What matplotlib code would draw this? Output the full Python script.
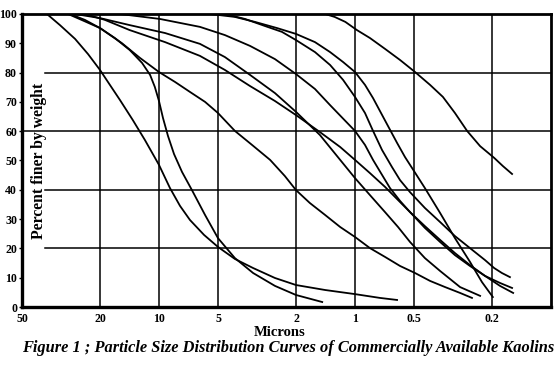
"""Particle size distribution curves of commercially available kaolins."""

import matplotlib
matplotlib.use('Agg')
import matplotlib.pyplot as plt
from matplotlib.ticker import FixedLocator, NullLocator

# Equivalent spherical diameter [microns] and cumulative percent finer,
# read off the scanned figure, one pair of lists per curve.
c1_um = [37.3, 32.0, 26.8, 23.0, 20.0, 17.8, 15.8, 13.6, 11.8, 10.0, 8.79, 7.81,
         6.95, 5.89, 5.0, 4.10, 3.31, 2.56, 2.0, 1.42, 1.0, 0.746, 0.61]
c1_pct = [100, 96.2, 91.5, 86.3, 80.9, 75.8, 70.6, 63.8, 57.0, 48.5, 40.6, 34.5,
          29.7, 24.6, 20.5, 16.4, 13.3, 9.9, 7.5, 5.8, 4.4, 3.1, 2.4]

c2_um = [28.5, 23.9, 20.0, 16.8, 14.1, 12.2, 11.1, 10.5, 10.0, 9.54, 9.0, 8.38,
         7.63, 6.79, 5.82, 5.0, 4.10, 3.31, 2.56, 2.0, 1.47]
c2_pct = [100, 98.0, 95.2, 91.8, 87.7, 83.3, 79.2, 75.1, 70.3, 64.5, 58.4, 52.2,
          46.1, 39.9, 31.4, 23.5, 16.7, 11.6, 7.2, 4.1, 1.7]

c3_um = [29.1, 24.1, 20.0, 15.5, 12.5, 10.0, 8.28, 6.95, 5.82, 5.0, 4.10, 3.35,
         2.71, 2.28, 2.0, 1.70, 1.42, 1.19, 1.0, 0.839, 0.703, 0.589, 0.494,
         0.414, 0.347, 0.291, 0.253]
c3_pct = [100, 97.6, 95.2, 90.1, 85.0, 80.2, 76.8, 73.4, 70.0, 66.2, 60.1, 55.3,
          50.2, 44.7, 39.9, 35.5, 31.4, 27.3, 23.9, 20.1, 17.1, 14.0, 11.6,
          8.9, 6.8, 4.8, 3.1]

c4_um = [1.42, 1.27, 1.12, 0.977, 0.839, 0.703, 0.589, 0.494, 0.414, 0.356,
         0.309, 0.268, 0.230, 0.195, 0.176, 0.158]
c4_pct = [100, 99.0, 97.3, 94.5, 91.8, 88.1, 84.3, 80.2, 75.8, 71.7,
          66.2, 60.1, 54.9, 50.9, 48.1, 45.4]

ga_um = [26.8, 20.0, 14.1, 9.31, 6.18, 4.61, 3.43, 2.56, 2.0, 1.51, 1.19, 1.0,
         0.839, 0.703, 0.603, 0.524, 0.440, 0.368, 0.291, 0.230]
ga_pct = [100, 98.6, 96.2, 93.5, 89.8, 85.3, 79.2, 73.0, 66.6, 58.7, 50.2, 44.0,
          38.2, 32.4, 27.3, 22.2, 16.7, 12.3, 6.8, 3.8]

gb_um = [23.9, 18.9, 14.1, 9.31, 6.18, 4.61, 3.43, 2.56, 2.0, 1.51, 1.19, 1.0,
         0.839, 0.703, 0.603, 0.524, 0.440, 0.368, 0.309, 0.259, 0.217, 0.182,
         0.156]
gb_pct = [100, 98.0, 94.5, 90.4, 85.7, 80.9, 75.4, 70.3, 65.5, 59.7, 54.6, 50.2,
          45.7, 41.0, 36.5, 32.4, 27.6, 22.9, 18.4, 14.3, 10.6, 7.2, 4.8]

gc_um = [15.8, 9.88, 6.18, 4.61, 3.43, 2.56, 2.0, 1.60, 1.34, 1.12, 1.0, 0.889,
         0.809, 0.728, 0.663, 0.589, 0.524, 0.440, 0.368, 0.309, 0.259, 0.217,
         0.182, 0.158]
gc_pct = [100, 98.3, 95.6, 92.8, 89.1, 84.6, 79.5, 74.4, 68.9, 63.5, 60.1, 55.3,
          50.2, 45.1, 40.6, 36.2, 32.4, 27.0, 22.2, 17.7, 14.0, 10.6, 8.2, 6.5]

gd_um = [4.61, 3.64, 2.88, 2.36, 2.0, 1.60, 1.34, 1.15, 1.0, 0.889, 0.809, 0.728,
         0.648, 0.589, 0.524, 0.440, 0.368, 0.309, 0.259, 0.217, 0.195, 0.178,
         0.162]
gd_pct = [100, 98.3, 95.9, 93.9, 91.1, 87.0, 82.6, 77.5, 71.7, 66.2, 60.1, 53.6,
          47.8, 43.3, 39.2, 33.8, 29.0, 24.2, 20.1, 16.0, 13.3, 11.6, 10.2]

ge_um = [5.49, 4.10, 3.24, 2.50, 2.0, 1.60, 1.34, 1.15, 1.0, 0.889, 0.809, 0.746,
         0.679, 0.610, 0.556, 0.500, 0.440, 0.368, 0.309, 0.259, 0.225, 0.198]
ge_pct = [100, 99.0, 97.3, 95.2, 93.2, 90.4, 87.0, 83.6, 80.2, 75.8, 71.3, 66.9,
          61.8, 56.0, 51.2, 46.4, 40.6, 32.1, 23.5, 15.4, 8.5, 3.4]

curves = [(c1_um, c1_pct), (c2_um, c2_pct), (c3_um, c3_pct), (c4_um, c4_pct),
          (ga_um, ga_pct), (gb_um, gb_pct), (gc_um, gc_pct), (gd_um, gd_pct),
          (ge_um, ge_pct)]

x_ticks = [50, 20, 10, 5, 2, 1, 0.5, 0.2]
x_labels = ['50', '20', '10', '5', '2', '1', '0.5', '0.2']
y_ticks = list(range(0, 101, 10))
y_grid = [20, 40, 60, 80]

title = 'Figure 1 ; Particle Size Distribution Curves of Commercially Available Kaolins'


def main():

    plt.rcParams['font.family'] = ['Liberation Serif', 'DejaVu Serif']

    fig = plt.figure(figsize=(5.55, 3.71), dpi=100)
    ax = fig.add_axes([0.0396, 0.1725, 0.9532, 0.7898])

    ax.set_xscale('log')
    ax.set_xlim(50, 0.1)
    ax.set_ylim(0, 100)

    # Grid drawn by hand: horizontal lines stop short of the y label.
    for xv in x_ticks[1:]:
        ax.axvline(xv, color='k', lw=1.1, zorder=1)
    for yv in y_grid:
        x_start = 50 if yv == 60 else 38
        ax.plot([x_start, 0.1], [yv, yv], color='k', lw=1.1, zorder=1)

    for um, pct in curves:
        ax.plot(um, pct, color='k', lw=1.3, zorder=2, solid_joinstyle='round')

    ax.xaxis.set_major_locator(FixedLocator(x_ticks))
    ax.xaxis.set_minor_locator(NullLocator())
    ax.set_xticklabels(x_labels)
    ax.set_yticks(y_ticks)
    ax.tick_params(axis='both', length=2, width=1, pad=1.5, labelsize=8.6)
    ax.tick_params(axis='x', length=0, pad=4)
    for lab in ax.get_xticklabels() + ax.get_yticklabels():
        lab.set_fontweight('bold')

    ax.spines['left'].set_linewidth(2.4)
    ax.spines['bottom'].set_linewidth(2.4)
    ax.spines['top'].set_linewidth(2.0)
    ax.spines['right'].set_linewidth(2.0)

    ax.text(0.032, 0.5, 'Percent finer by weight', transform=ax.transAxes,
            rotation=90, ha='center', va='center', fontsize=11.3,
            fontweight='bold')
    fig.text(280 / 555, 1 - 332 / 371, 'Microns', ha='center', va='center',
             fontsize=10.5, fontweight='bold')
    fig.text(22 / 555, 1 - 348 / 371, title, ha='left', va='center',
             fontsize=11.8, fontweight='bold', fontstyle='italic')

    fig.savefig('out.png', dpi=100)


if __name__ == '__main__':
    main()
